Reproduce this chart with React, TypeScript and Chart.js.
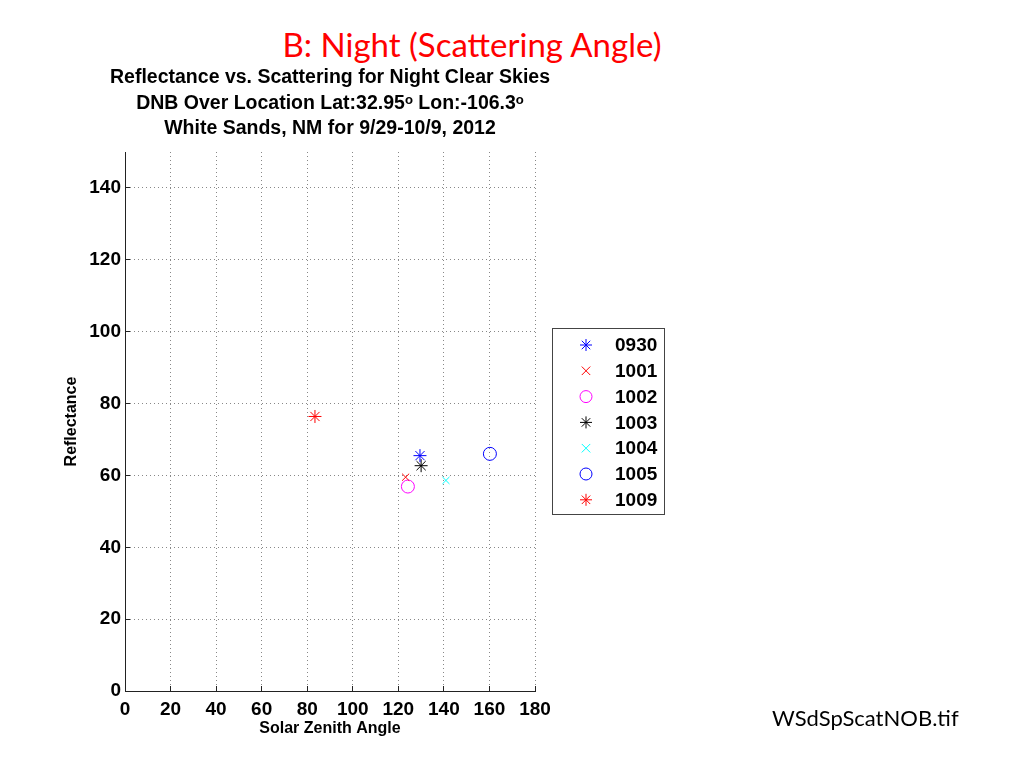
import { useEffect, useRef } from "react"
import Chart from "chart.js/auto"
import { drawPoint } from "chart.js/helpers"

// one marker per overpass date (mmdd)
const seriesLabels = ["0930", "1001", "1002", "1003", "1004", "1005", "1009"]
const zenithAngle = [129.5, 123.2, 124.2, 130.0, 140.9, 160.2, 83.4]
const reflectance = [65.5, 59.5, 56.9, 62.7, 58.6, 66.0, 76.4]
const markerStyles = ["star", "crossRot", "circle", "star", "crossRot", "circle", "star"]
const markerColors = ["#0000ff", "#ff0000", "#ff00ff", "#000000", "#00ffff", "#0000ff", "#ff0000"]

const titleLines = [
  "Reflectance vs. Scattering for Night Clear Skies",
  "DNB Over Location Lat:32.95ᵒ Lon:-106.3ᵒ",
  "White Sands, NM for 9/29-10/9, 2012",
]

const FONT = "'Liberation Sans', Arial, sans-serif"

// axes title centred over the plot area, allowed to run wider than it
const axesTitle = {
  id: "axesTitle",
  afterDraw(chart: any) {
    const ctx = chart.ctx
    const { left, right } = chart.chartArea
    ctx.save()
    ctx.fillStyle = "#000"
    ctx.font = `bold 19.5px ${FONT}`
    ctx.textAlign = "center"
    ctx.textBaseline = "middle"
    titleLines.forEach((line, i) => {
      ctx.fillText(line, (left + right) / 2, 78 + i * 25.2)
    })
    ctx.restore()
  },
}

// MATLAB style legend box to the right of the axes
const boxLegend = {
  id: "boxLegend",
  afterDraw(chart: any) {
    const ctx = chart.ctx
    ctx.save()
    ctx.lineWidth = 1
    ctx.strokeStyle = "#444"
    ctx.strokeRect(552.5, 328.5, 112, 186)
    chart.data.datasets.forEach((ds: any, i: number) => {
      const y = 345 + i * 25.8
      ctx.strokeStyle = ds.borderColor
      ctx.fillStyle = "rgba(0,0,0,0)"
      drawPoint(ctx, { pointStyle: ds.pointStyle, radius: 6, borderWidth: 1, rotation: 0 }, 586, y)
      ctx.fillStyle = "#000"
      ctx.font = `bold 19px ${FONT}`
      ctx.textBaseline = "middle"
      ctx.textAlign = "left"
      ctx.fillText(ds.label, 615, y + 1)
    })
    ctx.restore()
  },
}

const gridOpts = {
  color: "#888",
  drawTicks: true,
  tickLength: -5,
  tickColor: "#222",
}

const borderOpts = { display: true, color: "#222", width: 1, dash: [1, 3] }

export default function App() {
  const chartRef = useRef<HTMLCanvasElement>(null)
  const chartInstance = useRef<Chart | null>(null)

  useEffect(() => {
    document.body.style.margin = "0"
    if (!chartRef.current) return

    if (chartInstance.current) {
      chartInstance.current.destroy()
    }

    const datasets = seriesLabels.map((label, i) => ({
      label,
      data: [{ x: zenithAngle[i], y: reflectance[i] }],
      pointStyle: markerStyles[i],
      borderColor: markerColors[i],
      backgroundColor: "rgba(0,0,0,0)",
      pointRadius: markerStyles[i] === "crossRot" ? 5 : 6.5,
      pointBorderWidth: 1,
      showLine: false,
    }))

    const ctx = chartRef.current.getContext("2d")
    if (ctx) {
      chartInstance.current = new Chart(ctx, {
        type: "scatter",
        data: { datasets },
        options: {
          responsive: false,
          animation: false,
          events: [],
          layout: { padding: { left: 0, right: 489, top: 152, bottom: 0 } },
          plugins: {
            legend: { display: false },
            tooltip: { enabled: false },
            title: { display: false },
          },
          scales: {
            x: {
              type: "linear",
              min: 0,
              max: 180,
              ticks: {
                stepSize: 20,
                color: "#000",
                padding: 12,
                font: { family: FONT, size: 19, weight: "bold" },
              },
              grid: gridOpts,
              border: borderOpts,
              title: {
                display: true,
                text: "Solar Zenith Angle",
                color: "#000",
                font: { family: FONT, size: 16, weight: "bold" },
                padding: { top: 0, bottom: 29.4 },
              },
              afterFit: (scale: any) => {
                scale.height = 77
              },
            },
            y: {
              type: "linear",
              min: 0,
              max: 150,
              ticks: {
                stepSize: 20,
                color: "#000",
                padding: 9,
                font: { family: FONT, size: 19, weight: "bold" },
              },
              afterBuildTicks: (scale: any) => {
                scale.ticks = scale.ticks.filter((t: any) => t.value <= 140)
              },
              grid: gridOpts,
              border: borderOpts,
              title: {
                display: true,
                text: "Reflectance",
                color: "#000",
                font: { family: FONT, size: 16, weight: "bold" },
                padding: { top: 62, bottom: 0 },
              },
              afterFit: (scale: any) => {
                scale.width = 125
              },
            },
          },
        },
        plugins: [axesTitle, boxLegend],
      })
    }

    return () => {
      if (chartInstance.current) {
        chartInstance.current.destroy()
        chartInstance.current = null
      }
    }
  }, [])

  return (
    <div style={{ position: "relative", width: 1024, height: 768, background: "#fff", overflow: "hidden" }}>
      <div
        style={{
          position: "absolute",
          left: 0,
          width: 944,
          top: 22,
          textAlign: "center",
          color: "#ff0000",
          fontFamily: "Lato, 'Open Sans', sans-serif",
          fontSize: 33,
          lineHeight: "44px",
        }}
      >
        B: Night (Scattering Angle)
      </div>
      <canvas ref={chartRef} width={1024} height={768} style={{ position: "absolute", left: 0, top: 0 }} />
      <div
        style={{
          position: "absolute",
          left: 772,
          top: 704,
          color: "#000",
          fontFamily: "Lato, 'Open Sans', sans-serif",
          fontSize: 22,
          lineHeight: "28px",
        }}
      >
        WSdSpScatNOB.tif
      </div>
    </div>
  )
}
